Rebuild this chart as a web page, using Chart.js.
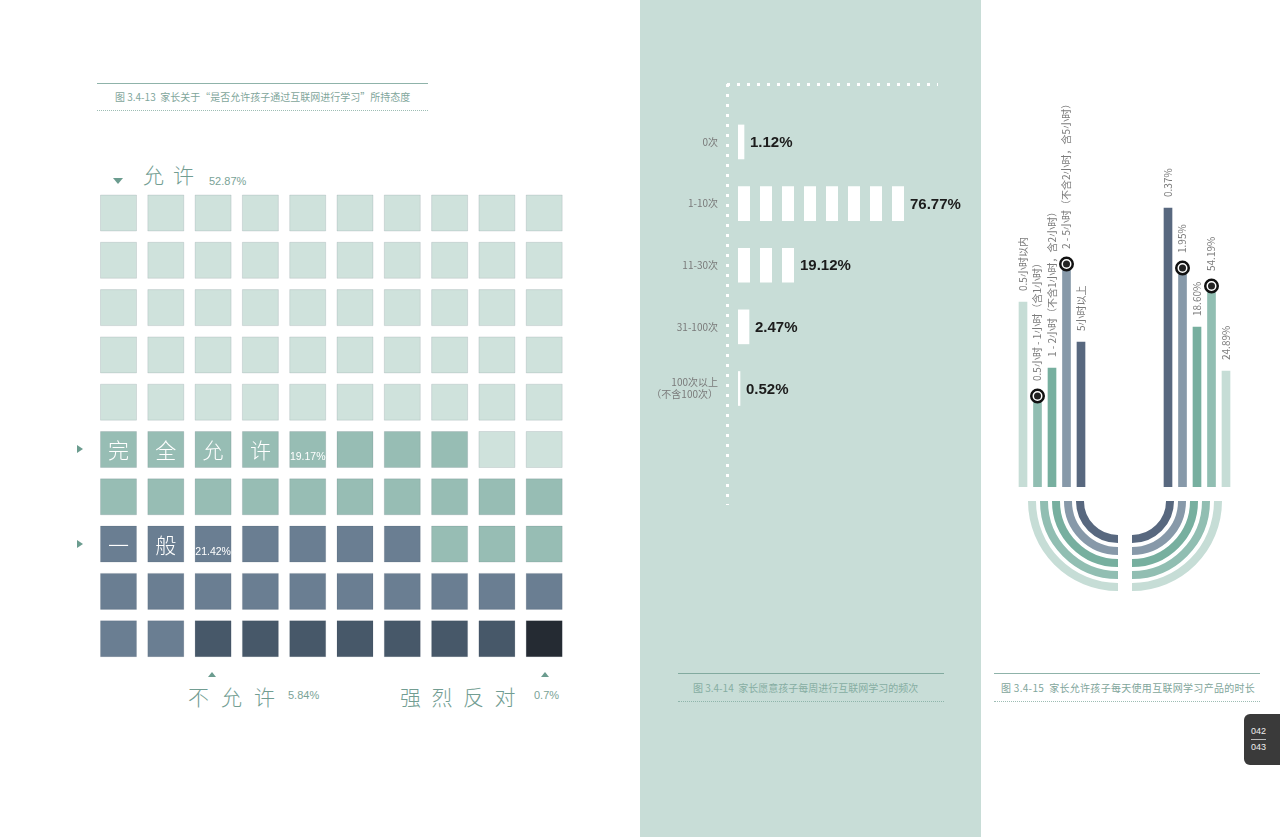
<!DOCTYPE html>
<html>
<head>
<meta charset="utf-8">
<style>
  body { margin:0; width:1280px; height:837px; overflow:hidden; background:#fff; position:relative;
         font-family:"Noto Sans CJK SC","Liberation Sans",sans-serif; }
  .abs { position:absolute; white-space:nowrap; }
  canvas { position:absolute; }
  .big { position:absolute; font-size:21px; line-height:21px; font-weight:300; color:#729d92; white-space:nowrap; }
  .pct { position:absolute; font-size:11px; line-height:12px; color:#7aa397; font-family:"Liberation Sans",sans-serif; }
  .cap { position:absolute; font-size:10px; line-height:12px; color:#7fa69b; white-space:nowrap; }
  .solid { position:absolute; height:0; border-top:1px solid #8fb3aa; }
  .dots { position:absolute; height:0; border-top:1px dotted #9dbdb4; }
  .tri-down { position:absolute; width:0; height:0; border-left:5px solid transparent; border-right:5px solid transparent; border-top:6px solid #6b9c8f; }
  .tri-right { position:absolute; width:0; height:0; border-top:4.5px solid transparent; border-bottom:4.5px solid transparent; border-left:6px solid #6b9c8f; }
  .tri-up { position:absolute; width:0; height:0; border-left:4px solid transparent; border-right:4px solid transparent; border-bottom:5px solid #6b9c8f; }
</style>
</head>
<body>

<!-- middle panel background -->
<div class="abs" style="left:640px;top:0;width:341px;height:837px;background:#c8ddd7"></div>

<!-- left caption -->
<div class="solid" style="left:97px;top:83px;width:331px"></div>
<div class="cap" style="left:115px;top:91px">图 3.4-13&nbsp; 家长关于“是否允许孩子通过互联网进行学习”所持态度</div>
<div class="dots" style="left:97px;top:110px;width:331px"></div>

<!-- waffle outside labels -->
<div class="tri-down" style="left:113px;top:178px"></div>
<div class="big" style="left:143px;top:164px;letter-spacing:9px">允许</div>
<div class="pct" style="left:209px;top:175px">52.87%</div>
<div class="tri-right" style="left:77px;top:445px"></div>
<div class="tri-right" style="left:77px;top:540px"></div>
<div class="tri-up" style="left:208px;top:672px"></div>
<div class="tri-up" style="left:541px;top:672px"></div>
<div class="big" style="left:188px;top:686px;letter-spacing:12px">不允许</div>
<div class="pct" style="left:288px;top:689px">5.84%</div>
<div class="big" style="left:400px;top:686px;letter-spacing:10.5px">强烈反对</div>
<div class="pct" style="left:534px;top:689px">0.7%</div>

<!-- middle caption -->
<div class="solid" style="left:678px;top:673px;width:266px;border-color:#82aa9f"></div>
<div class="cap" style="left:693px;top:682px;color:#86ada2">图 3.4-14&nbsp; 家长愿意孩子每周进行互联网学习的频次</div>
<div class="dots" style="left:678px;top:701px;width:266px;border-color:#8fb5ab"></div>

<!-- right caption -->
<div class="solid" style="left:994px;top:673px;width:266px"></div>
<div class="cap" style="left:1001px;top:682px;letter-spacing:0.3px">图 3.4-15&nbsp; 家长允许孩子每天使用互联网学习产品的时长</div>
<div class="dots" style="left:994px;top:701px;width:266px"></div>

<!-- page number -->
<div class="abs" style="left:1244px;top:714px;width:50px;height:51px;background:#3a3a3a;border-radius:6px"></div>
<div class="abs" style="left:1251px;top:726px;font:9px 'Liberation Sans';color:#eee">042</div>
<div class="abs" style="left:1251px;top:739px;width:15px;height:1px;background:#bbb"></div>
<div class="abs" style="left:1251px;top:742px;font:9px 'Liberation Sans';color:#eee">043</div>

<canvas id="waffle" width="490" height="500" style="left:90px;top:180px"></canvas>
<canvas id="freq" width="340" height="462" style="left:640px;top:63px"></canvas>
<canvas id="dur" width="250" height="420" style="left:1000px;top:90px"></canvas>
<canvas id="arcL" width="90" height="90" style="left:1028px;top:501px"></canvas>
<canvas id="arcR" width="90" height="90" style="left:1132px;top:501px"></canvas>

<script src="https://cdn.jsdelivr.net/npm/chart.js@4.4.0/dist/chart.umd.min.js"></script>
<script>
// ---- data: 图 3.4-13 waffle ----
const waffleCats = ['允许', '完全允许', '一般', '不允许', '强烈反对'];
const wafflePct = ['52.87%', '19.17%', '21.42%', '5.84%', '0.7%'];
const waffleColors = ['#cfe2dc', '#97bdb4', '#6a7e92', '#475869', '#252b33'];
const waffleInCell = [false, true, true, false, false];
// one letter per cell, A = 允许 ... E = 强烈反对
const waffleRows = [
  'AAAAAAAAAA',
  'AAAAAAAAAA',
  'AAAAAAAAAA',
  'AAAAAAAAAA',
  'AAAAAAAAAA',
  'BBBBBBBBAA',
  'BBBBBBBBBB',
  'CCCCCCCBBB',
  'CCCCCCCCCC',
  'CCDDDDDDDE'
];

// ---- data: 图 3.4-14 weekly frequency ----
const freqCats = ['0次', '1-10次', '11-30次', '31-100次', ['100次以上', '（不含100次）']];
const freqPct = ['1.12%', '76.77%', '19.12%', '2.47%', '0.52%'];
const freqBarLen = [6, 166, 56, 11, 2];   // drawn lengths

// ---- data: 图 3.4-15 daily duration ----
const durCats = ['0.5小时以内', '0.5小时 - 1小时（含1小时）', '1 - 2小时（不含1小时，含2小时）',
                 '2 - 5小时（不含2小时，含5小时）', '5小时以上'];
const durPct = ['24.89%', '54.19%', '18.60%', '1.95%', '0.37%'];
const durColors = ['#c6ddd6', '#91beb2', '#77af9f', '#8799a9', '#58687f'];
const durLeftHeights = [185, 91, 119, 223, 145];
const durRightHeights = [116, 201, 160, 219, 279];
const durMarked = [false, true, false, true, false];
const durGapSlots = 5;

Chart.defaults.font.family = '"Noto Sans CJK SC", "Liberation Sans", sans-serif';
Chart.defaults.animation = false;
Chart.defaults.events = [];
Chart.defaults.plugins.legend.display = false;
Chart.defaults.plugins.tooltip.enabled = false;

// ===== waffle =====
const letters = 'ABCDE';
const waffleSets = waffleCats.map((name, k) => {
  const pts = [];
  waffleRows.forEach((row, r) => {
    [...row].forEach((ch, c) => { if (letters.indexOf(ch) === k) pts.push({ x: c, y: r }); });
  });
  return {
    label: name, data: pts,
    pointStyle: 'rect', pointRadius: 25.46,
    backgroundColor: waffleColors[k], borderColor: 'rgba(40,60,70,0.12)', borderWidth: 1
  };
});

const waffleText = {
  id: 'waffleText',
  afterDatasetsDraw(chart) {
    const { ctx, scales: { x, y } } = chart;
    ctx.save();
    ctx.fillStyle = '#fff';
    ctx.textAlign = 'center';
    ctx.textBaseline = 'middle';
    waffleCats.forEach((name, k) => {
      if (!waffleInCell[k]) return;
      const first = chart.data.datasets[k].data[0];
      const chars = [...name];
      ctx.font = '300 21px "Noto Sans CJK SC"';
      chars.forEach((ch, i) => {
        ctx.fillText(ch, x.getPixelForValue(first.x + i), y.getPixelForValue(first.y) + 1);
      });
      ctx.font = '10.5px "Liberation Sans"';
      ctx.fillText(wafflePct[k], x.getPixelForValue(first.x + chars.length), y.getPixelForValue(first.y) + 8);
    });
    ctx.restore();
  }
};

new Chart(document.getElementById('waffle'), {
  type: 'scatter',
  data: { datasets: waffleSets },
  options: {
    responsive: false,
    layout: { autoPadding: false, padding: { left: 4.85, right: 12.15, top: 9.35, bottom: 17.65 } },
    scales: {
      x: { display: false, min: -0.5, max: 9.5 },
      y: { display: false, min: -0.5, max: 9.5, reverse: true }
    }
  },
  plugins: [waffleText]
});

// ===== weekly frequency =====
const freqCanvas = document.getElementById('freq');
const stripe = document.createElement('canvas');
stripe.width = 22; stripe.height = 1;
const sctx = stripe.getContext('2d');
sctx.fillStyle = '#fff';
sctx.fillRect(0, 0, 12, 1);
const pillarFill = freqCanvas.getContext('2d').createPattern(stripe, 'repeat');

const freqText = {
  id: 'freqText',
  beforeDatasetsDraw(chart) {
    pillarFill.setTransform(new DOMMatrix().translate(chart.scales.x.getPixelForValue(0), 0));
  },
  afterDatasetsDraw(chart) {
    const { ctx } = chart;
    ctx.save();
    ctx.font = 'bold 15px "Liberation Sans"';
    ctx.fillStyle = '#1c1c1c';
    ctx.textAlign = 'left';
    ctx.textBaseline = 'middle';
    chart.getDatasetMeta(0).data.forEach((bar, i) => {
      ctx.fillText(freqPct[i], bar.x + 6, bar.y + 1);
    });
    ctx.restore();
  }
};

const FREQ_MIN = 0.06, FREQ_MAX = 6.89, X_MIN = -11;
const dotDash = { display: false, dash: [3, 7] };
new Chart(freqCanvas, {
  type: 'bar',
  data: {
    datasets: [{
      data: freqBarLen.map((v, i) => ({ x: v, y: i + 1 })),
      backgroundColor: pillarFill,
      barThickness: 34,
      borderWidth: 0
    }]
  },
  options: {
    responsive: false,
    indexAxis: 'y',
    layout: { autoPadding: false, padding: { left: 0, top: 7, right: 42, bottom: 20 } },
    scales: {
      x: {
        type: 'linear', position: 'top', min: X_MIN, max: 200, offset: false,
        afterBuildTicks: s => { s.ticks = [{ value: X_MIN }]; },
        ticks: { display: false },
        grid: { color: '#fff', lineWidth: 3, drawTicks: false, offset: false },
        border: dotDash,
        afterFit: s => { s.height = 0; }
      },
      y: {
        type: 'linear', reverse: true, min: FREQ_MIN, max: FREQ_MAX, offset: false,
        afterBuildTicks: s => { s.ticks = [{ value: FREQ_MIN }, ...freqCats.map((c, i) => ({ value: i + 1 }))]; },
        ticks: {
          callback: v => (Number.isInteger(v) ? freqCats[v - 1] : ''),
          color: '#7a7a7a', padding: 9,
          font: { size: 10, lineHeight: 1.2 }
        },
        grid: {
          color: c => (c.index === 0 ? '#fff' : 'rgba(0,0,0,0)'),
          lineWidth: 3, drawTicks: false, offset: false
        },
        border: dotDash,
        afterFit: s => { s.width = 87; }
      }
    }
  },
  plugins: [freqText]
});

// ===== daily duration bars =====
const gapNulls = Array(durGapSlots).fill(null);
const rev = a => a.slice().reverse();
const slotHeights = [...durLeftHeights, ...gapNulls, ...rev(durRightHeights)];
const slotColors = [...durColors, ...gapNulls.map(() => 'rgba(0,0,0,0)'), ...rev(durColors)];
const slotTexts = [...durCats, ...gapNulls.map(() => ''), ...rev(durPct)];
const markL = durMarked.map((m, i) => (m ? durLeftHeights[i] : null));
const markR = durMarked.map((m, i) => (m ? durRightHeights[i] : null));
const slotMarks = [...markL, ...gapNulls, ...rev(markR)];

const durText = {
  id: 'durText',
  afterDatasetsDraw(chart) {
    const { ctx } = chart;
    const bars = chart.getDatasetMeta(2).data;
    ctx.save();
    ctx.font = '10px "Noto Sans CJK SC"';
    ctx.fillStyle = '#7b7b7b';
    ctx.textAlign = 'left';
    ctx.textBaseline = 'middle';
    slotTexts.forEach((t, i) => {
      if (!t) return;
      const b = bars[i];
      const gap = slotMarks[i] !== null ? 15 : 11;
      ctx.save();
      ctx.translate(b.x, b.y - gap);
      ctx.rotate(-Math.PI / 2);
      ctx.fillText(t, 0, 0);
      ctx.restore();
    });
    ctx.restore();
  }
};

new Chart(document.getElementById('dur'), {
  type: 'bar',
  data: {
    labels: slotHeights.map((v, i) => i),
    datasets: [
      { type: 'line', data: slotMarks, showLine: false, pointRadius: 3.5,
        pointBackgroundColor: '#222', pointBorderWidth: 0 },
      { type: 'line', data: slotMarks, showLine: false, pointRadius: 6.25,
        pointBackgroundColor: '#fff', pointBorderColor: '#111', pointBorderWidth: 2.5 },
      { data: slotHeights, backgroundColor: slotColors, barThickness: 8, borderWidth: 0 }
    ]
  },
  options: {
    responsive: false,
    layout: { autoPadding: false, padding: { left: 15.75, right: 16.75, top: 10, bottom: 23 } },
    scales: {
      x: { display: false },
      y: { display: false, min: 0, max: 387 }
    }
  },
  plugins: [durText]
});

// ===== connecting arcs (quarter doughnuts) =====
function arcChart(id, rotation) {
  const sets = [];
  durColors.forEach((c, i) => {
    if (i) sets.push({ data: [1], backgroundColor: 'rgba(0,0,0,0)', borderWidth: 0, weight: 4 });
    sets.push({ data: [1], backgroundColor: c, borderWidth: 0, weight: 8 });
  });
  new Chart(document.getElementById(id), {
    type: 'doughnut',
    data: { datasets: sets },
    options: { responsive: false, rotation, circumference: 90, cutout: '37.8%' }
  });
}
arcChart('arcL', 180);
arcChart('arcR', 90);
</script>
</body>
</html>
